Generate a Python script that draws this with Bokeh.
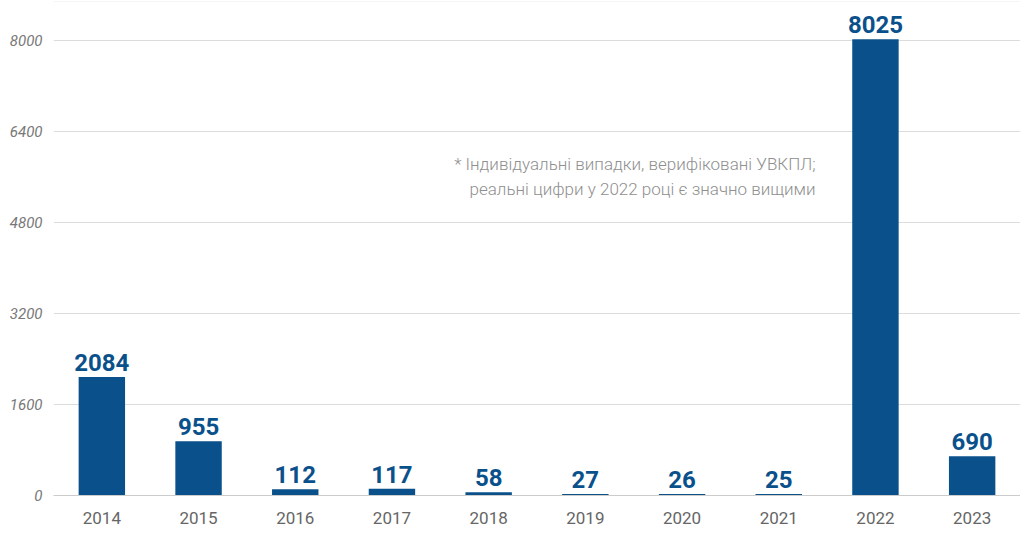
from bokeh.plotting import figure
from bokeh.models import ColumnDataSource, FactorRange, Range1d, FixedTicker, Label, Span
from bokeh.core.properties import value
from bokeh.embed import file_html
from bokeh.resources import INLINE

years = ["2014", "2015", "2016", "2017", "2018", "2019", "2020", "2021", "2022", "2023"]
counts = [2084, 955, 112, 117, 58, 27, 26, 25, 8025, 690]
y_ticks = [0, 1600, 3200, 4800, 6400, 8000]
note_lines = ["* Індивідуальні випадки, верифіковані УВКПЛ;",
              "реальні цифри у 2022 році є значно вищими"]

BLUE = "#0a518b"

src = ColumnDataSource(dict(x=years, y=counts, lbl=[str(c) for c in counts]))

p = figure(width=1020, height=547, x_range=FactorRange(*years, range_padding=0),
           y_range=Range1d(0, 8690), output_backend="svg", toolbar_location=None,
           min_border_left=53, min_border_right=0, min_border_top=1, min_border_bottom=52)
p.outline_line_color = None
p.background_fill_color = "white"
p.border_fill_color = "white"

p.vbar(x="x", top="y", width=0.48, source=src, color=BLUE, line_color=None)
p.text(x="x", y="y", text="lbl", source=src, text_align="center", text_baseline="bottom",
       y_offset=-6, text_font=value("Roboto"), text_font_style="bold",
       text_font_size="24px", text_color=BLUE)

p.xgrid.grid_line_color = None
p.ygrid.grid_line_color = "#dcdcdc"
p.ygrid.grid_line_width = 1
p.yaxis.ticker = FixedTicker(ticks=y_ticks)
p.yaxis.axis_line_color = None
p.yaxis.major_tick_line_color = None
p.yaxis.minor_tick_line_color = None
p.yaxis.major_label_text_font = "Roboto"
p.yaxis.major_label_text_font_style = "italic"
p.yaxis.major_label_text_font_size = "15px"
p.yaxis.major_label_text_color = "#777777"
p.yaxis.major_label_text_baseline = "bottom"
p.yaxis.major_label_standoff = 5

p.xaxis.axis_line_color = "#cccccc"
p.xaxis.major_tick_line_color = None
p.xaxis.minor_tick_line_color = None
p.xaxis.major_label_text_font = "Roboto"
p.xaxis.major_label_text_font_size = "17px"
p.xaxis.major_label_text_color = "#666666"
p.xaxis.major_label_standoff = 10

p.add_layout(Span(location=8690, dimension="width", line_color="#eeeeee", line_width=1))

for i, t in enumerate(note_lines):
    p.add_layout(Label(x=7.88, y=5830 - i * 440, text=t, text_align="right",
                       text_baseline="middle", text_font="Roboto Light",
                       text_font_size="17px", text_color="#8f8f8f"))

open("out.html", "w").write(file_html(p, INLINE))
